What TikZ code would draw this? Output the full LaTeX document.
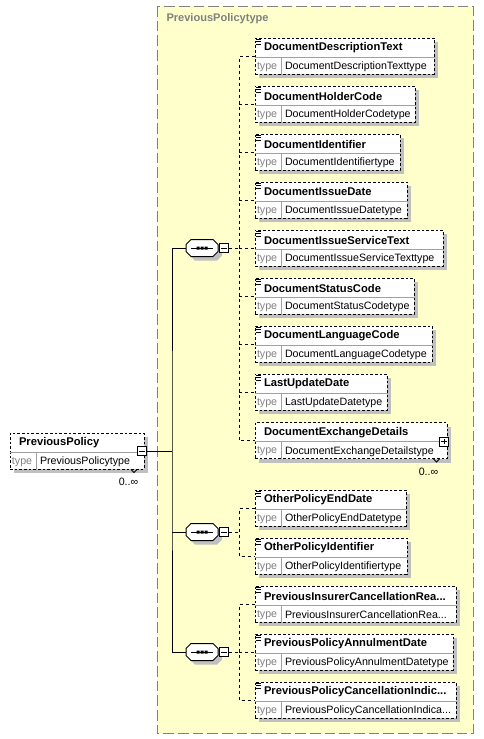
\documentclass[tikz,border=0pt]{standalone}
\usepackage{fontspec}
\setmainfont{Liberation Sans}
\usetikzlibrary{shadows}
\definecolor{fondjaune}{HTML}{FFFFCC}
\definecolor{ombre}{HTML}{C0C0C0}
\definecolor{grisbord}{HTML}{808080}
\definecolor{grisclair}{HTML}{A0A0A0}
\begin{document}
\begin{tikzpicture}[x=0.75pt,y=-0.75pt,line width=0.75pt]
% Styles
\tikzstyle{panneau}=[draw=grisbord,fill=fondjaune,dash pattern=on 8pt off 3pt]
\tikzstyle{titre}=[text=grisbord,font=\fontsize{8.3}{10}\selectfont\bfseries,anchor=west,inner sep=0pt]
\tikzstyle{boite}=[draw,fill=white,dash pattern=on 2pt off 1.5pt,inner sep=0pt,minimum height=27pt,drop shadow={shadow xshift=3pt,shadow yshift=-3pt,fill=ombre,opacity=1}]
\tikzstyle{separation}=[draw=grisclair,solid]
\tikzstyle{nom}=[font=\fontsize{8.4}{10}\selectfont\bfseries,anchor=west,inner sep=0pt]
\tikzstyle{genre}=[text=grisbord,font=\fontsize{8}{10}\selectfont,anchor=west,inner sep=0pt]
\tikzstyle{typage}=[font=\fontsize{8}{10}\selectfont,anchor=west,inner sep=0pt]
\tikzstyle{occurrence}=[font=\fontsize{8}{10}\selectfont,inner sep=0pt]
\tikzstyle{sequence}=[inner sep=0pt,minimum width=24pt,minimum height=12.75pt]
\tikzstyle{signe}=[draw,solid,fill=white,inner sep=0pt,minimum size=6.75pt]
\tikzstyle{moins}=[signe,path picture={\draw ([xshift=1.4pt]path picture bounding box.west) -- ([xshift=-1.4pt]path picture bounding box.east);}]
\tikzstyle{plus}=[signe,path picture={\draw ([xshift=1.4pt]path picture bounding box.west) -- ([xshift=-1.4pt]path picture bounding box.east) ([yshift=-1.4pt]path picture bounding box.north) -- ([yshift=1.4pt]path picture bounding box.south);}]
\tikzstyle{trait}=[solid]
\tikzstyle{pointille}=[dash pattern=on 2.25pt off 2.25pt]
% Macros
\def\Boite#1#2#3#4#5#6{% noeud, gauche, milieu, droite, nom, type
  \node[boite,minimum width={(#4-#2)*0.75pt}] (#1) at ({(#2+#4)/2},#3) {};
  \draw[separation] ([yshift=-0.75pt]#1.west) -- ([yshift=-0.75pt]#1.east);
  \draw[separation] ([shift={(27,1)}]#1.west) -- ([xshift=20.25pt]#1.south west);
  \node[nom] (#1-nom) at ([shift={(9,-8)}]#1.west) {#5};
  \node[genre] (#1-genre) at ([shift={(2,11)}]#1.west) {type};
  \node[typage] (#1-type) at ([shift={(30,11)}]#1.west) {#6};}
\def\Icone#1{\draw[line width=0.6pt] ([shift={(1,-17)}]#1.west) -- ++(5,0) ([shift={(1,-14.5)}]#1.west) -- ++(5,0) ([shift={(1,-12)}]#1.west) -- ++(5,0);}
\def\Element#1#2#3#4#5{\Boite{#1}{255}{#2}{#3}{#4}{#5}\Icone{#1}}
\def\Octogone{(-16,-3.5) -- (-11,-8.5) -- (11,-8.5) -- (16,-3.5) -- (16,3.5) -- (11,8.5) -- (-11,8.5) -- (-16,3.5) -- cycle}
\def\Sequence#1#2{% noeud, milieu
  \node[sequence] (#1) at (202,#2) {};
  \fill[ombre,shift={(#1.center)},xshift=3pt,yshift=-3pt] \Octogone;
  \draw[fill=white,shift={(#1.center)}] \Octogone;
  \draw ([xshift=-8.25pt]#1.center) -- ([xshift=8.25pt]#1.center);
  \fill ([shift={(-5.5,-1.5)}]#1.center) rectangle ++(3,3) ([shift={(-1.5,-1.5)}]#1.center) rectangle ++(3,3) ([shift={(2.5,-1.5)}]#1.center) rectangle ++(3,3);
  \node[moins] (#1-moins) at (224,#2) {};}
\useasboundingbox (0,0) rectangle (484,739);
% Cadre
\draw[panneau] (157,6) rectangle (473,733);
\node[titre] (titre) at (166,19) {PreviousPolicytype};
% Racine
\Boite{racine}{10}{451}{144}{PreviousPolicy}{PreviousPolicytype}
\node[moins] (racine-moins) at (142,451) {};
\draw[line width=0.6pt] ([xshift=-13.5*0.75pt]racine.south east) -- ++(3,3) -- ++(3,-3);
\node[occurrence] (racine-occ) at (128.5,482) {0..∞};
% Sequences
\Sequence{seqA}{248}
\Sequence{seqB}{532}
\Sequence{seqC}{652}
% Elements
\Element{e1}{56}{434}{DocumentDescriptionText}{DocumentDescriptionTexttype}
\Element{e2}{104}{415}{DocumentHolderCode}{DocumentHolderCodetype}
\Element{e3}{152}{400}{DocumentIdentifier}{DocumentIdentifiertype}
\Element{e4}{200}{407}{DocumentIssueDate}{DocumentIssueDatetype}
\Element{e5}{248}{443}{DocumentIssueServiceText}{DocumentIssueServiceTexttype}
\Element{e6}{296}{414}{DocumentStatusCode}{DocumentStatusCodetype}
\Element{e7}{344}{432}{DocumentLanguageCode}{DocumentLanguageCodetype}
\Element{e8}{392}{387}{LastUpdateDate}{LastUpdateDatetype}
\Boite{e9}{255}{440.5}{447}{DocumentExchangeDetails}{DocumentExchangeDetailstype}
\node[plus] (e9-plus) at ([shift={(-3.5,1)}]e9.east) {};
\draw[line width=0.6pt] ([xshift=-14*0.75pt]e9.south east) -- ++(3,3) -- ++(3,-3);
\node[occurrence] (e9-occ) at (428.5,471.5) {0..∞};
\Element{e10}{508}{406}{OtherPolicyEndDate}{OtherPolicyEndDatetype}
\Element{e11}{556}{407}{OtherPolicyIdentifier}{OtherPolicyIdentifiertype}
\Element{e12}{604}{456}{PreviousInsurerCancellationRea...}{PreviousInsurerCancellationRea...}
\Element{e13}{652}{453}{PreviousPolicyAnnulmentDate}{PreviousPolicyAnnulmentDatetype}
\Element{e14}{700}{456}{PreviousPolicyCancellationIndic...}{PreviousPolicyCancellationIndica...}
% Liens
\coordinate (tronc) at (172,451);
\draw[trait] (racine-moins.east) -- (tronc);
\draw[trait] (seqA.west) -| (tronc) |- (seqC.west);
\draw[trait] (tronc |- seqB.west) -- (seqB.west);
\coordinate (brancheA) at (239,248);
\draw[pointille] (seqA-moins.east) -- (brancheA);
\draw[pointille] (e1.west) -| (brancheA) |- (e9.west);
\draw[pointille] (brancheA |- e2.west) -- (e2.west);
\draw[pointille] (brancheA |- e3.west) -- (e3.west);
\draw[pointille] (brancheA |- e4.west) -- (e4.west);
\draw[pointille] (brancheA) -- (e5.west);
\draw[pointille] (brancheA |- e6.west) -- (e6.west);
\draw[pointille] (brancheA |- e7.west) -- (e7.west);
\draw[pointille] (brancheA |- e8.west) -- (e8.west);
\coordinate (brancheB) at (239,532);
\draw[pointille] (seqB-moins.east) -- (brancheB);
\draw[pointille] (e10.west) -| (brancheB) |- (e11.west);
\coordinate (brancheC) at (239,652);
\draw[pointille] (seqC-moins.east) -- (brancheC);
\draw[pointille] (e12.west) -| (brancheC) |- (e14.west);
\draw[pointille] (brancheC) -- (e13.west);
\end{tikzpicture}
\end{document}
